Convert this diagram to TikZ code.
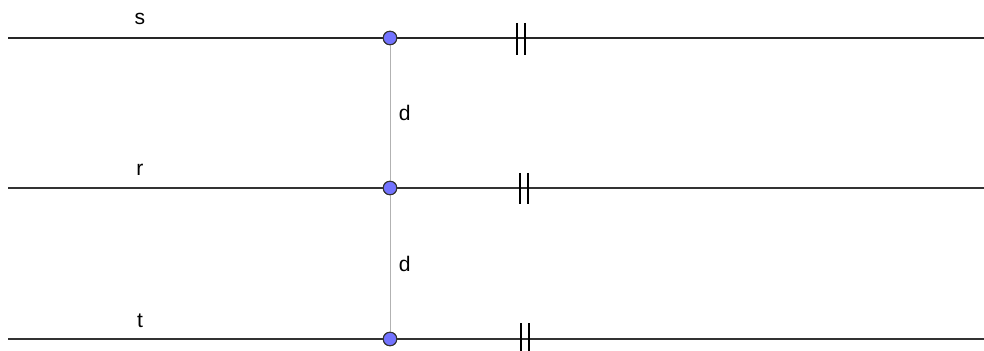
\documentclass[tikz,border=0pt]{standalone}
\usepackage{fontspec}
\setmainfont{Liberation Sans}
\usepackage{tikz}

\begin{document}
\begin{tikzpicture}[x=0.02cm,y=-0.02cm,
    every node/.style={font=\large},
    pt/.style={circle,draw=black!80,fill=blue!55!white,line width=0.6pt,inner sep=0pt,minimum size=0.27cm},
    tick/.style={line width=1.5pt,black}]

    \useasboundingbox (0,0) rectangle (984,351);

    \coordinate (sL) at (8, 38);
    \coordinate (sR) at (984, 38);
    \coordinate (rL) at (8, 188);
    \coordinate (rR) at (984, 188);
    \coordinate (tL) at (8, 339);
    \coordinate (tR) at (984, 339);

    \draw[line width=1.1pt,black!85] (sL) -- (sR);
    \draw[line width=1.1pt,black!80] (rL) -- (rR);
    \draw[line width=1.7pt,black!80] (tL) -- (tR);

    \node (ls) at (140, 19)  {s};
    \node (lr) at (140, 170) {r};
    \node (lt) at (140, 321) {t};

    \node[pt] (A) at (390, 38)  {};
    \node[pt] (B) at (390, 188) {};
    \node[pt] (C) at (390, 339) {};

    \draw[black!30,line width=0.5pt] (A) -- (B) node[midway,right=0.05cm,black] {d};
    \draw[black!30,line width=0.5pt] (B) -- (C) node[midway,right=0.05cm,black] {d};

    % parallel marks
    \draw[tick] (517, 23) -- (517, 55);
    \draw[tick] (525, 23) -- (525, 55);
    \draw[tick] (520, 173) -- (520, 204);
    \draw[tick] (528, 173) -- (528, 204);
    \draw[tick] (521, 323) -- (521, 355);
    \draw[tick] (529, 323) -- (529, 355);

    \node[pt] at (A) {};
    \node[pt] at (B) {};
    \node[pt] at (C) {};
  \end{tikzpicture}
\end{document}
